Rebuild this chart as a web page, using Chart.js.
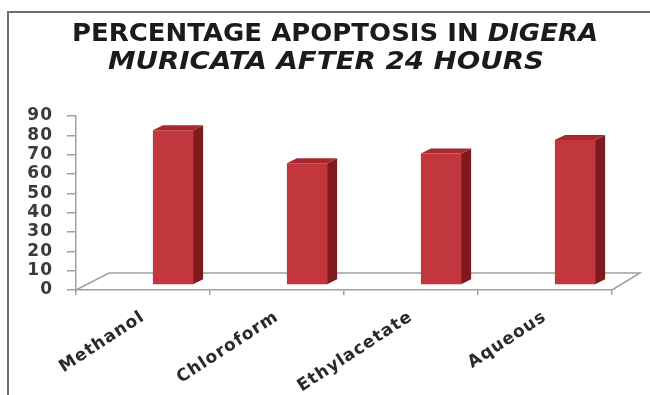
<!DOCTYPE html>
<html>
<head>
<meta charset="utf-8">
<script src="https://cdn.jsdelivr.net/npm/chart.js@4.4.1/dist/chart.umd.min.js"></script>
<style>
  html, body { margin: 0; padding: 0; background: #fff; }
  #wrap { position: relative; width: 650px; height: 395px; }
</style>
</head>
<body>
<div id="wrap"><canvas id="c" width="650" height="395"></canvas></div>
<script>
// Extracts and their percentage apoptosis after 24 h
const extracts = ['Methanol', 'Chloroform', 'Ethylacetate', 'Aqueous'];
const apoptosis = [80, 63, 68, 75];
const yTicks = [0, 10, 20, 30, 40, 50, 60, 70, 80, 90];

const titleLine1 = ['PERCENTAGE APOPTOSIS IN ', 'DIGERA'];
const titleLine2 = 'MURICATA AFTER 24 HOURS';

const FRONT = '#c1373d';
const SIDE = '#7f1b1f';
const TOP = '#a8282e';
const BAR_SHIFT = { x: 30, y: -5 };   // bars sit a little back from the front floor edge
const BAR_DEPTH = { x: 10, y: -5 };   // depth of each column
const FLOOR_DEPTH = { x: 33, y: -17 };

// draw a run of text stretched to a given width
function fitText(ctx, parts, centerX, baseline, width) {
  let total = 0;
  parts.forEach(p => { ctx.font = p.font; p.w = ctx.measureText(p.text).width; total += p.w; });
  const sx = width / total;
  ctx.save();
  ctx.translate(centerX - width / 2, baseline);
  ctx.scale(sx, 1);
  let x = 0;
  parts.forEach(p => { ctx.font = p.font; ctx.fillText(p.text, x, 0); x += p.w; });
  ctx.restore();
}

const threeD = {
  id: 'threeD',
  beforeLayout(chart) { chart.ctx.letterSpacing = '1px'; },
  beforeDraw(chart) { chart.ctx.letterSpacing = '1px'; },
  beforeDatasetsDraw(chart) {
    const { ctx, chartArea: a } = chart;
    // floor: back edge and the two side edges
    ctx.save();
    ctx.strokeStyle = '#a0a0a0';
    ctx.lineWidth = 1.5;
    ctx.beginPath();
    ctx.moveTo(a.left, a.bottom);
    ctx.lineTo(a.left + FLOOR_DEPTH.x, a.bottom + FLOOR_DEPTH.y);
    ctx.lineTo(a.right + FLOOR_DEPTH.x - 5, a.bottom + FLOOR_DEPTH.y);
    ctx.lineTo(a.right, a.bottom);
    ctx.stroke();
    ctx.restore();
    ctx.save();
    ctx.translate(BAR_SHIFT.x, BAR_SHIFT.y);
  },
  afterDatasetsDraw(chart) {
    const { ctx } = chart;
    chart.getDatasetMeta(0).data.forEach(bar => {
      const p = bar.getProps(['x', 'y', 'base', 'width'], true);
      const l = p.x - p.width / 2, r = p.x + p.width / 2;
      // side face
      ctx.fillStyle = SIDE;
      ctx.beginPath();
      ctx.moveTo(r, p.y);
      ctx.lineTo(r + BAR_DEPTH.x, p.y + BAR_DEPTH.y);
      ctx.lineTo(r + BAR_DEPTH.x, p.base + BAR_DEPTH.y);
      ctx.lineTo(r, p.base);
      ctx.closePath();
      ctx.fill();
      // top face
      ctx.fillStyle = TOP;
      ctx.beginPath();
      ctx.moveTo(l, p.y);
      ctx.lineTo(l + BAR_DEPTH.x, p.y + BAR_DEPTH.y);
      ctx.lineTo(r + BAR_DEPTH.x, p.y + BAR_DEPTH.y);
      ctx.lineTo(r, p.y);
      ctx.closePath();
      ctx.fill();
    });
    ctx.restore();
  },
  afterDraw(chart) {
    const { ctx } = chart;
    ctx.save();
    ctx.letterSpacing = '0px';
    // frame lines
    ctx.strokeStyle = '#6e6e6e';
    ctx.lineWidth = 2;
    ctx.beginPath();
    ctx.moveTo(650, 12);
    ctx.lineTo(8, 12);
    ctx.lineTo(8, 395);
    ctx.stroke();
    // two-line title with italic species name
    ctx.fillStyle = '#1b1b1b';
    ctx.textBaseline = 'alphabetic';
    ctx.textAlign = 'left';
    const normal = 'bold 25px "DejaVu Sans"';
    const italic = 'italic bold 25px "DejaVu Sans"';
    fitText(ctx, [{ text: titleLine1[0], font: normal }, { text: titleLine1[1], font: italic }], 335, 41, 526);
    fitText(ctx, [{ text: titleLine2, font: italic }], 326, 69, 436);
    ctx.restore();
  }
};

new Chart(document.getElementById('c'), {
  type: 'bar',
  data: {
    labels: extracts,
    datasets: [{
      data: apoptosis,
      backgroundColor: FRONT,
      borderWidth: 0,
      barPercentage: 0.6,
      categoryPercentage: 0.5,
      clip: false
    }]
  },
  options: {
    responsive: false,
    animation: false,
    events: [],
    layout: { padding: { top: 116, right: 38, left: 0, bottom: 0 } },
    plugins: { legend: { display: false }, tooltip: { enabled: false }, title: { display: false } },
    scales: {
      x: {
        afterFit(s) { s.height = 105; },
        grid: { drawOnChartArea: false, drawTicks: true, tickLength: 5, color: '#a0a0a0', lineWidth: 1.5 },
        border: { display: true, color: '#a0a0a0', width: 1.5 },
        ticks: {
          minRotation: 33, maxRotation: 33, padding: 12,
          color: '#2a2a2a',
          font: { family: 'DejaVu Sans', weight: 'bold', size: 17 }
        }
      },
      y: {
        min: 0, max: 90,
        afterFit(s) { s.width = 76; },
        afterBuildTicks(s) { s.ticks = yTicks.map(v => ({ value: v })); },
        grid: { drawOnChartArea: false, drawTicks: true, tickLength: 9, color: '#a0a0a0', lineWidth: 1.5 },
        border: { display: true, color: '#a0a0a0', width: 1.5 },
        ticks: {
          autoSkip: false,
          padding: 14,
          color: '#3a3a3a',
          font: { family: 'DejaVu Sans', weight: 'bold', size: 17, lineHeight: 1 }
        }
      }
    }
  },
  plugins: [threeD]
});
</script>
</body>
</html>
